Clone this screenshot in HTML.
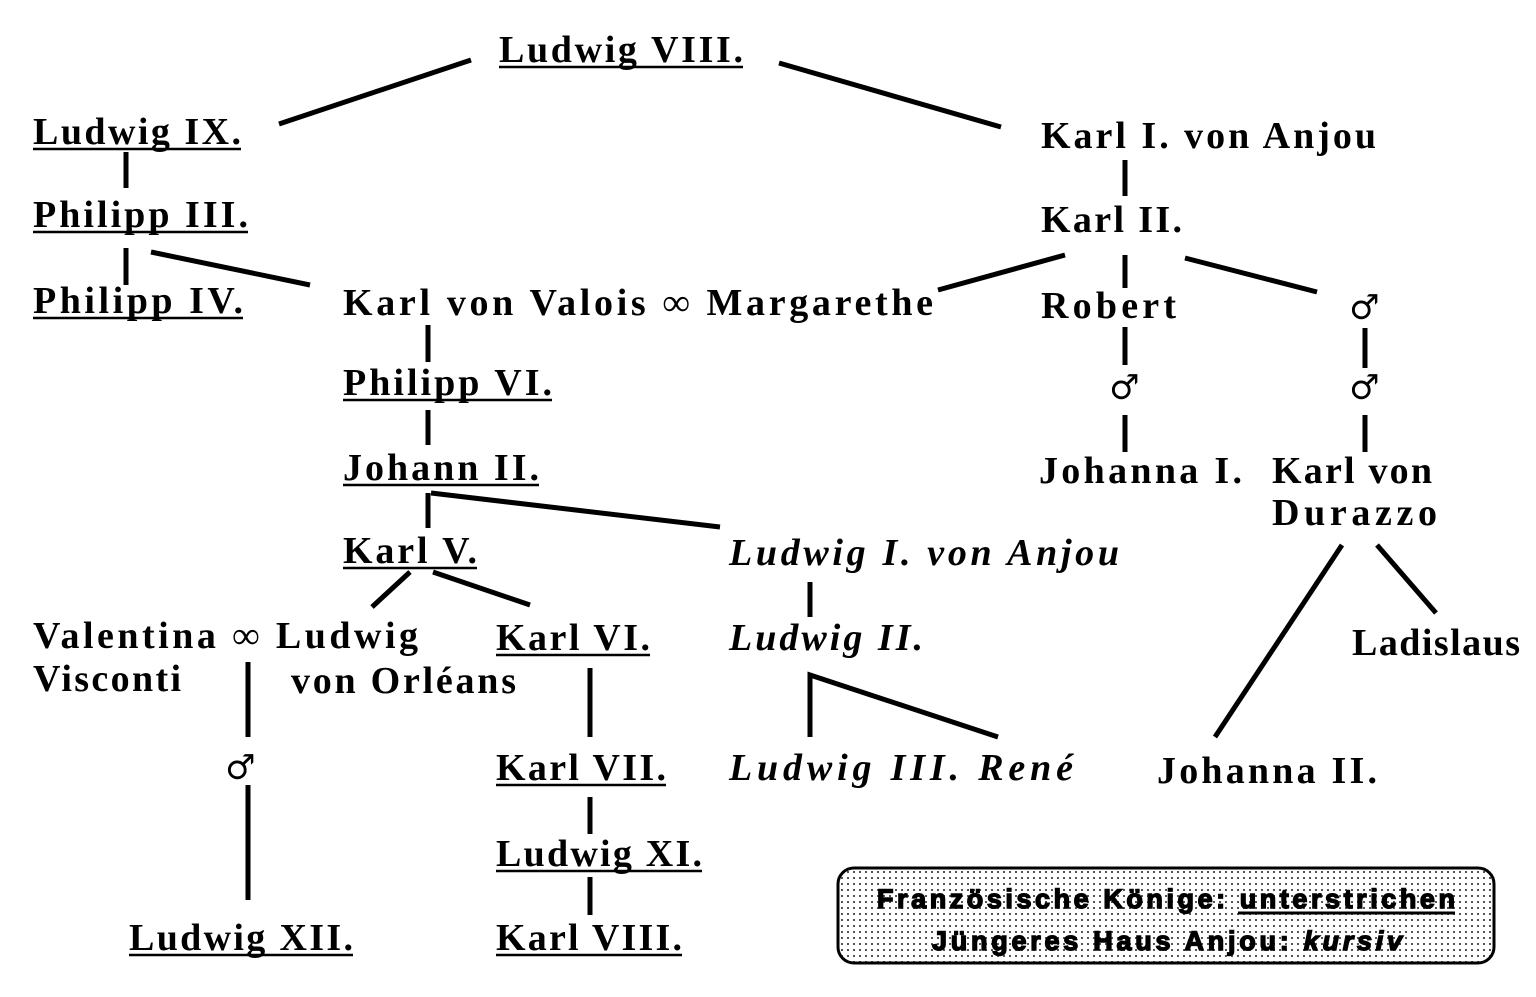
<!DOCTYPE html>
<html><head><meta charset="utf-8"><style>
html,body{margin:0;padding:0;background:#fff;}
svg{display:block;}
text{font-family:"Liberation Serif",serif;font-weight:bold;font-size:38px;fill:#000;}
.i{font-style:italic;}
.m{font-family:"DejaVu Serif",serif;font-size:34px;font-weight:bold;}
.l{font-family:"Liberation Sans",sans-serif;font-size:27px;font-weight:900;stroke:#000;stroke-width:1.4;}
</style></head><body>
<svg width="1536" height="997" viewBox="0 0 1536 997" xmlns="http://www.w3.org/2000/svg">
<defs><pattern id="dots" width="6" height="6" patternUnits="userSpaceOnUse"><rect width="6" height="6" fill="#fff"/><rect x="1" y="1" width="2" height="2" fill="#555"/></pattern></defs>
<g stroke="#000" stroke-width="5" fill="none">
<line x1="279" y1="124" x2="471" y2="60"/>
<line x1="779" y1="63" x2="1001" y2="127"/>
<line x1="126" y1="152" x2="126" y2="188"/>
<line x1="126" y1="248" x2="126" y2="285"/>
<line x1="151" y1="252" x2="310" y2="285"/>
<line x1="1125" y1="160" x2="1125" y2="196"/>
<line x1="938" y1="290" x2="1065" y2="255"/>
<line x1="1125" y1="255" x2="1125" y2="288"/>
<line x1="1185" y1="258" x2="1317" y2="292"/>
<line x1="428" y1="325" x2="428" y2="362"/>
<line x1="428" y1="410" x2="428" y2="445"/>
<line x1="428" y1="493" x2="428" y2="528"/>
<line x1="431" y1="493" x2="720" y2="527"/>
<line x1="1125" y1="327" x2="1125" y2="365"/>
<line x1="1125" y1="415" x2="1125" y2="452"/>
<line x1="1365" y1="328" x2="1365" y2="368"/>
<line x1="1365" y1="415" x2="1365" y2="452"/>
<line x1="410" y1="572" x2="372" y2="607"/>
<line x1="433" y1="572" x2="530" y2="605"/>
<line x1="810" y1="582" x2="810" y2="617"/>
<line x1="248" y1="662" x2="248" y2="737"/>
<line x1="590" y1="668" x2="590" y2="737"/>
<line x1="590" y1="797" x2="590" y2="834"/>
<line x1="590" y1="877" x2="590" y2="915"/>
<line x1="248" y1="785" x2="248" y2="900"/>
<polyline points="810,737 810,675 998,737"/>
<line x1="1342" y1="545" x2="1215" y2="737"/>
<line x1="1377" y1="545" x2="1436" y2="613"/>
</g>
<g stroke="#000" stroke-width="2.5">
<line x1="499" y1="67" x2="743" y2="67"/>
<line x1="33" y1="149" x2="241" y2="149"/>
<line x1="33" y1="232" x2="248" y2="232"/>
<line x1="33" y1="318" x2="243" y2="318"/>
<line x1="343" y1="400" x2="552" y2="400"/>
<line x1="343" y1="485" x2="539" y2="485"/>
<line x1="343" y1="568" x2="477" y2="568"/>
<line x1="496" y1="655" x2="650" y2="655"/>
<line x1="496" y1="785" x2="666" y2="785"/>
<line x1="496" y1="871" x2="702" y2="871"/>
<line x1="129" y1="955" x2="353" y2="955"/>
<line x1="496" y1="955" x2="682" y2="955"/>
</g>
<text x="499" y="62" textLength="244">Ludwig VIII.</text>
<text x="33" y="144" textLength="208">Ludwig IX.</text>
<text x="1041" y="148" textLength="335">Karl I. von Anjou</text>
<text x="33" y="227" textLength="215">Philipp III.</text>
<text x="1041" y="232" textLength="141">Karl II.</text>
<text x="33" y="313" textLength="210">Philipp IV.</text>
<text x="343" y="315" textLength="590">Karl von Valois ∞ Margarethe</text>
<text x="1041" y="318" textLength="135">Robert</text>
<text class="m" x="1349" y="319">♂</text>
<text x="343" y="395" textLength="209">Philipp VI.</text>
<text class="m" x="1109" y="399">♂</text>
<text class="m" x="1349" y="399">♂</text>
<text x="343" y="480" textLength="196">Johann II.</text>
<text x="1039" y="483" textLength="203">Johanna I.</text>
<text x="1272" y="483" textLength="160">Karl von</text>
<text x="1272" y="525" textLength="165">Durazzo</text>
<text x="343" y="563" textLength="134">Karl V.</text>
<text class="i" x="729" y="565" textLength="390">Ludwig I. von Anjou</text>
<text x="33" y="648" textLength="385">Valentina ∞ Ludwig</text>
<text x="33" y="691" textLength="148">Visconti</text>
<text x="496" y="650" textLength="154">Karl VI.</text>
<text x="291" y="693" textLength="225">von Orléans</text>
<text class="i" x="729" y="650" textLength="194">Ludwig II.</text>
<text x="1352" y="655" textLength="168">Ladislaus</text>
<text class="m" x="225" y="779">♂</text>
<text x="496" y="780" textLength="170">Karl VII.</text>
<text class="i" x="729" y="780" textLength="344">Ludwig III. René</text>
<text x="1157" y="783" textLength="220">Johanna II.</text>
<text x="496" y="866" textLength="206">Ludwig XI.</text>
<text x="129" y="950" textLength="224">Ludwig XII.</text>
<text x="496" y="950" textLength="186">Karl VIII.</text>
<rect x="838" y="868" width="656" height="95" rx="16" fill="url(#dots)" stroke="#000" stroke-width="3"/>
<text class="l" x="877" y="908" textLength="578">Französische Könige: unterstrichen</text>
<line x1="1238" y1="913" x2="1455" y2="913" stroke="#000" stroke-width="3"/>
<text class="l" x="932" y="950" textLength="470">Jüngeres Haus Anjou: <tspan font-style="italic">kursiv</tspan></text>
</svg>
</body></html>
